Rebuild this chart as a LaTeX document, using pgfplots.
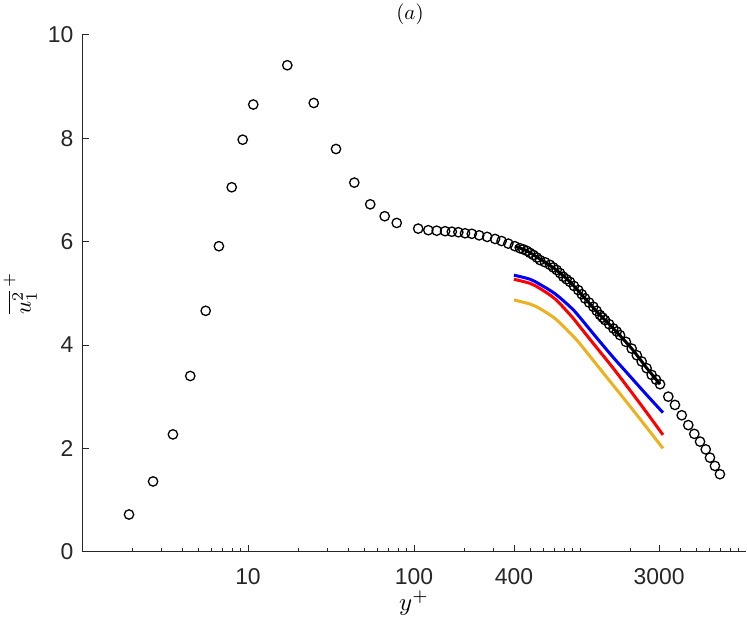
\documentclass[border=0pt]{standalone}
\usepackage{graphicx}
\usepackage{pgfplots}
\pgfplotsset{compat=1.18}
\usepackage{fontspec}
\setmainfont{Liberation Sans}
\definecolor{mgray}{rgb}{0.15,0.15,0.15}
\definecolor{myellow}{rgb}{0.929,0.694,0.125}
\begin{document}
\begin{tikzpicture}
\begin{axis}[
  scale only axis,
  width=664bp, height=517bp,
  xmode=log, log basis x=10,
  xmin=1, xmax=10000, ymin=0, ymax=10,
  axis lines=left,
  axis line style={-, mgray, line width=0.8bp},
  tick align=inside,
  major tick length=7bp, minor tick length=4bp,
  every tick/.style={mgray, line width=0.8bp},
  xtick={10,100,400,3000},
  xticklabels={10,100,400,3000},
  minor xtick={2,3,4,5,6,7,8,9,20,30,40,50,60,70,80,90,200,300,500,600,700,800,900,1000,2000,4000,5000,6000,7000,8000,9000},
  ytick={0,2,4,6,8,10},
  yticklabels={0,2,4,6,8,10},
  tick label style={font=\fontsize{23}{27}\selectfont, text=mgray},
  xticklabel style={yshift=-13bp},
  yticklabel style={xshift=-5bp},
  xlabel={\scalebox{2.5}{$y^+$}},
  ylabel={\scalebox{2.3}{$\overline{u_1^2}^{\,+}$}},
  xlabel style={at={(axis description cs:0.5,-0.1)}, anchor=center},
  ylabel style={at={(axis description cs:-0.093,0.5)}, anchor=center, rotate=0},
  title={\scalebox{2.1}{$(a)$}},
  title style={at={(axis description cs:0.494,1.029)}, anchor=center},
]
% DNS circles, set 1
\addplot[only marks, mark=o, mark size=4.7bp, mark options={line width=1.3bp, black}] coordinates {
(1.92,0.72) (2.68,1.36) (3.53,2.27) (4.49,3.40) (5.56,4.66) (6.68,5.91) (7.98,7.05) (9.29,7.97) (10.76,8.65) (17.25,9.41) (24.9,8.68) (33.9,7.79) (43.7,7.14) (54.5,6.72) (66.6,6.49) (78.7,6.36)
(106,6.25) (122,6.22) (137,6.21) (154,6.20) (169,6.19) (185,6.18) (203,6.16) (223,6.15) (247,6.12) (276,6.09) (308,6.05) (337,6.01) (370,5.96) (405,5.91) (435,5.87) (478,5.82) (524,5.74) (575,5.64) (659,5.55) (724,5.45) (793,5.32) (870,5.22) (977,5.06) (1072,4.90) (1203,4.74) (1319,4.58) (1415,4.48) (1588,4.32) (1743,4.19) (2048,3.93) (2353,3.68) (2703,3.42) (3036,3.24)
(3404,3.00) (3733,2.84) (4100,2.64) (4490,2.45) (4883,2.28) (5287,2.13) (5720,1.98) (6067,1.82) (6500,1.66) (6966,1.50)
};
% DNS circles, set 2
\addplot[only marks, mark=o, mark size=4.7bp, mark options={line width=1.3bp, black}] coordinates {
(455,5.85) (500,5.78) (550,5.69) (615,5.60) (690,5.50) (758,5.39) (830,5.27) (920,5.14) (1025,4.98) (1135,4.82) (1260,4.66) (1367,4.53) (1500,4.40) (1665,4.26) (1890,4.06) (2200,3.80) (2520,3.55) (2870,3.33)
};
% black line
\addplot[black, line width=3bp, smooth] coordinates {
(405,5.91) (478,5.82) (575,5.66) (700,5.48) (870,5.22) (1072,4.90) (1319,4.58) (1588,4.32) (2048,3.93) (2500,3.57) (3036,3.24)
};
% blue
\addplot[blue, line width=3bp, smooth] coordinates {
(400,5.35) (501,5.27) (575,5.17) (708,4.99) (891,4.71) (1000,4.53) (1259,4.14) (1585,3.76) (1995,3.40) (2512,3.04) (3162,2.69)
};
% red
\addplot[red, line width=3bp, smooth] coordinates {
(400,5.27) (501,5.19) (575,5.09) (708,4.89) (891,4.55) (1000,4.35) (1259,3.95) (1585,3.55) (1995,3.13) (2512,2.70) (3162,2.26)
};
% yellow
\addplot[myellow, line width=3bp, smooth] coordinates {
(400,4.87) (501,4.79) (575,4.70) (708,4.51) (891,4.20) (1000,4.02) (1259,3.62) (1585,3.22) (1995,2.82) (2512,2.41) (3162,2.00)
};
\end{axis}
\path (current axis.south west) ++(-82bp,-75bp) rectangle ++(747bp,625bp);
\end{tikzpicture}
\end{document}
